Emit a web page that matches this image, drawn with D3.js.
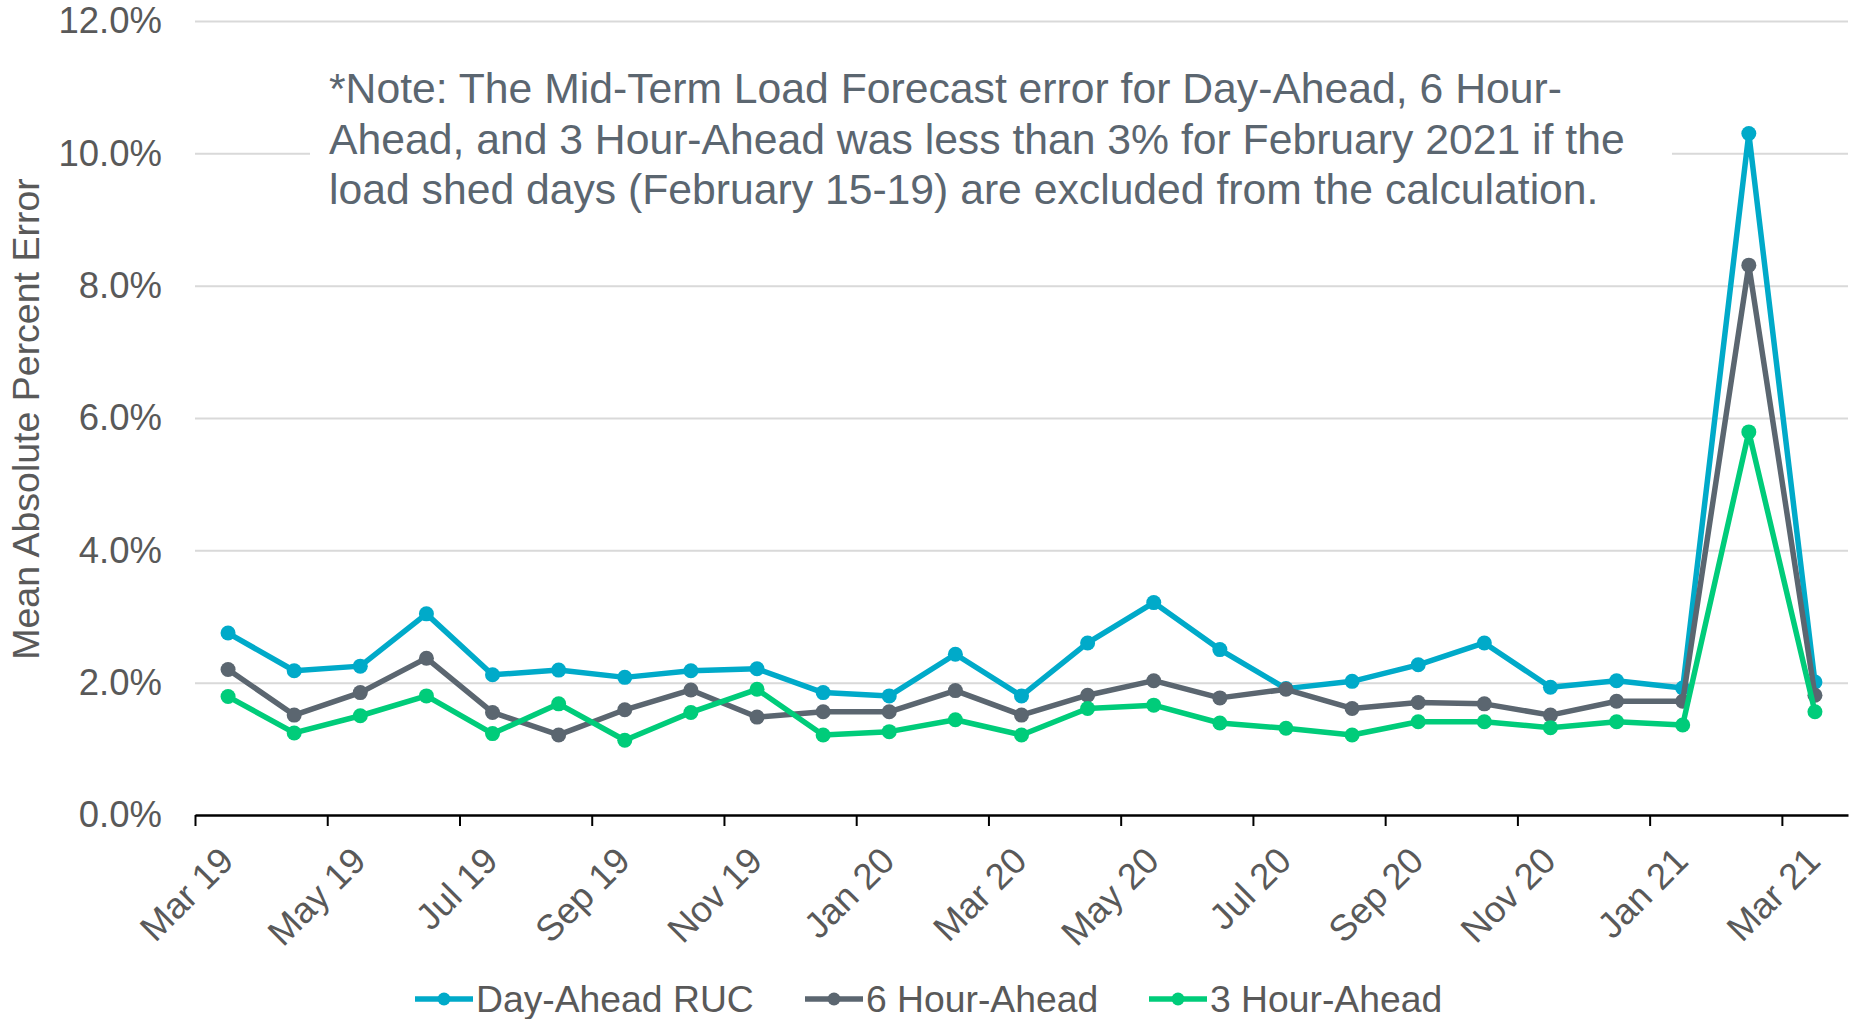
<!DOCTYPE html>
<html>
<head>
<meta charset="utf-8">
<script src="https://cdn.jsdelivr.net/npm/d3@7"></script>
<style>
  html, body { margin: 0; padding: 0; background: #fff; }
  svg text { font-family: "Liberation Sans", Arial, sans-serif; }
</style>
</head>
<body>
<svg id="chart" width="1851" height="1019"></svg>
<script>
// months, one point per month (Mar 2019 .. Mar 2021)
var months = ["Mar 19", "Apr 19", "May 19", "Jun 19", "Jul 19", "Aug 19", "Sep 19", "Oct 19", "Nov 19", "Dec 19",
              "Jan 20", "Feb 20", "Mar 20", "Apr 20", "May 20", "Jun 20", "Jul 20", "Aug 20", "Sep 20", "Oct 20",
              "Nov 20", "Dec 20", "Jan 21", "Feb 21", "Mar 21"];

var dayAheadRUC = [2.75, 2.18, 2.25, 3.04, 2.12, 2.19, 2.08, 2.18, 2.21, 1.85,
                   1.80, 2.43, 1.80, 2.60, 3.21, 2.50, 1.91, 2.02, 2.27, 2.60,
                   1.93, 2.03, 1.92, 10.30, 2.01];
var sixHourAhead = [2.20, 1.51, 1.85, 2.37, 1.55, 1.21, 1.59, 1.89, 1.48, 1.56,
                    1.56, 1.88, 1.51, 1.81, 2.03, 1.77, 1.90, 1.61, 1.70, 1.68,
                    1.51, 1.72, 1.72, 8.31, 1.81];
var threeHourAhead = [1.79, 1.24, 1.50, 1.80, 1.23, 1.68, 1.13, 1.55, 1.90, 1.21,
                      1.26, 1.44, 1.21, 1.61, 1.66, 1.39, 1.31, 1.21, 1.41, 1.41,
                      1.32, 1.41, 1.36, 5.79, 1.56];

var yTicks = [0, 2, 4, 6, 8, 10, 12];

var series = [
    { name: "Day-Ahead RUC", values: dayAheadRUC, color: "#00AAC9" },
    { name: "6 Hour-Ahead", values: sixHourAhead, color: "#5B6670" },
    { name: "3 Hour-Ahead", values: threeHourAhead, color: "#00CC7A" }
];

var noteLines = [
    "*Note: The Mid-Term Load Forecast error for Day-Ahead, 6 Hour-",
    "Ahead, and 3 Hour-Ahead was less than 3% for February 2021 if the",
    "load shed days (February 15-19) are excluded from the calculation."
];

(function () {
    'use strict';

    var svg = d3.select("#chart");
    var plotLeft = 195, plotRight = 1848, plotTop = 21, plotBottom = 815;
    var labelColor = "#595959";
    var font = '"Liberation Sans", Arial, sans-serif';

    var x = d3.scaleLinear().domain([0, months.length]).range([plotLeft, plotRight]);
    var y = d3.scaleLinear().domain([0, 12]).range([plotBottom, plotTop]);

    // gridlines + y labels
    var yAxis = svg.append("g")
        .attr("transform", "translate(" + plotLeft + ",0)")
        .call(d3.axisLeft(y).tickValues(yTicks).tickSize(-(plotRight - plotLeft)).tickPadding(33)
            .tickFormat(function (d) { return d.toFixed(1) + "%"; }));
    yAxis.select(".domain").remove();
    yAxis.selectAll(".tick line").attr("stroke", "#D9D9D9").attr("stroke-width", 2);
    yAxis.selectAll(".tick text").attr("fill", labelColor).style("font-size", "36.5px").style("font-family", font);
    yAxis.selectAll(".tick").filter(function (d) { return d === 0; }).select("line").remove();

    // note box covering the gridline
    svg.append("rect").attr("x", 310).attr("y", 40).attr("width", 1362).attr("height", 185).attr("fill", "#fff");
    var note = svg.append("text").attr("fill", "#5B6670").style("font-size", "42.7px");
    noteLines.forEach(function (t, i) {
        note.append("tspan").attr("x", 329).attr("y", 103 + i * 50.5).text(t);
    });

    // x axis
    var tickIdx = d3.range(0, months.length, 2);
    var xAxis = svg.append("g")
        .attr("transform", "translate(0," + plotBottom + ")")
        .call(d3.axisBottom(x).tickValues(tickIdx).tickSize(11).tickSizeOuter(0)
            .tickFormat(function (i) { return months[i]; }));
    xAxis.select(".domain").attr("stroke", "#000").attr("stroke-width", 2.5);
    xAxis.selectAll(".tick line").attr("stroke", "#000").attr("stroke-width", 2);
    xAxis.selectAll(".tick text")
        .attr("fill", labelColor)
        .style("font-size", "36.5px")
        .style("font-family", font)
        .attr("text-anchor", "end")
        .attr("dy", null)
        .attr("y", null)
        .attr("transform", "translate(40,48) rotate(-45)");

    // series
    var line = d3.line()
        .x(function (d, i) { return x(i + 0.5); })
        .y(function (d) { return y(d); });

    series.forEach(function (s) {
        var g = svg.append("g");
        g.append("path").datum(s.values)
            .attr("d", line)
            .attr("fill", "none")
            .attr("stroke", s.color)
            .attr("stroke-width", 5.5)
            .attr("stroke-linejoin", "round");
        g.selectAll("circle").data(s.values).enter().append("circle")
            .attr("cx", function (d, i) { return x(i + 0.5); })
            .attr("cy", function (d) { return y(d); })
            .attr("r", 7.5)
            .attr("fill", s.color);
    });

    // legend
    var legendX = [415, 805, 1149];
    var legendY = 999;
    series.forEach(function (s, i) {
        var g = svg.append("g").attr("transform", "translate(" + legendX[i] + "," + legendY + ")");
        g.append("line").attr("x1", 0).attr("x2", 58).attr("y1", 0).attr("y2", 0)
            .attr("stroke", s.color).attr("stroke-width", 5.5);
        g.append("circle").attr("cx", 29).attr("cy", 0).attr("r", 6.5).attr("fill", s.color);
        g.append("text").attr("x", 61).attr("y", 0).attr("dy", "0.35em")
            .attr("fill", labelColor).style("font-size", "37.3px").text(s.name);
    });

    // y title
    svg.append("text")
        .attr("transform", "translate(39,419) rotate(-90)")
        .attr("text-anchor", "middle")
        .attr("fill", labelColor)
        .style("font-size", "37.5px")
        .text("Mean Absolute Percent Error");
}());
</script>
</body>
</html>
